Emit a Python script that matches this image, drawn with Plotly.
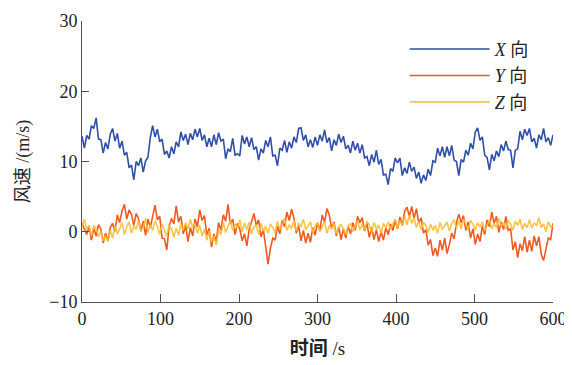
import plotly.graph_objects as go

# time axis, s (sample every 3 s)
t = list(range(0, 601, 3))

# X-direction wind speed (m/s)
x_dir = [
    13.6, 11.9, 13.7, 13.2, 15.1, 14.7, 16.2, 13.2, 13.1, 11.2,
    12.7, 11.8, 13.9, 14.7, 12.9, 14.0, 11.9, 12.9, 10.9, 11.3,
    9.1, 9.5, 7.4, 10.0, 9.4, 10.5, 8.5, 10.1, 10.6, 13.4,
    15.1, 13.5, 14.6, 12.8, 13.2, 11.0, 11.5, 10.5, 12.1, 11.1,
    12.8, 12.1, 14.2, 13.0, 13.9, 12.4, 14.0, 13.1, 14.6, 13.5,
    14.7, 13.0, 13.8, 12.1, 13.3, 12.1, 13.8, 12.4, 14.1, 12.9,
    13.2, 10.4, 11.8, 11.4, 13.3, 10.9, 11.1, 10.8, 13.7, 12.5,
    13.5, 12.1, 13.4, 11.7, 12.1, 10.2, 11.8, 11.2, 13.0, 12.1,
    13.5, 10.8, 10.9, 9.4, 11.9, 11.6, 13.0, 11.3, 12.8, 11.9,
    13.5, 12.7, 14.7, 14.8, 13.0, 13.8, 12.1, 13.1, 12.0, 13.5,
    12.3, 13.8, 12.9, 14.5, 12.7, 13.4, 11.5, 13.1, 12.3, 13.9,
    12.7, 13.6, 11.8, 12.3, 11.2, 12.9, 11.6, 12.6, 11.2, 12.4,
    10.5, 10.7, 9.4, 11.0, 9.9, 11.6, 9.6, 10.3, 8.1, 8.2,
    6.7, 9.0, 8.6, 10.5, 9.8, 10.5, 8.0, 9.1, 8.3, 9.9,
    8.6, 9.2, 7.6, 8.5, 6.9, 8.1, 7.3, 8.9, 8.0, 10.1,
    9.9, 11.9, 10.8, 12.1, 10.6, 12.1, 10.8, 12.3, 10.2, 10.0,
    8.0, 10.3, 9.9, 11.6, 10.9, 12.6, 11.8, 14.2, 14.8, 13.0,
    13.5, 10.9, 10.6, 8.8, 11.0, 10.1, 11.5, 10.7, 12.4, 11.5,
    12.9, 11.7, 11.6, 9.1, 11.6, 11.8, 14.3, 13.1, 14.6, 13.7,
    14.7, 12.8, 13.3, 11.9, 13.8, 13.1, 14.7, 12.8, 13.4, 12.3, 13.8,
]

# Y-direction wind speed (m/s)
y_dir = [
    1.2, 0.3, -0.4, 0.8, -1.2, 0.5, -0.6, 1.0, 0.4, -1.6,
    -0.2, -1.3, 0.6, 1.2, 0.1, 2.4, 1.3, 3.0, 3.9, 1.8,
    3.1, 2.5, 0.9, 2.6, 1.9, 0.1, 1.5, -0.5, 1.8, 0.6,
    2.3, 3.8, 1.7, 2.2, -0.9, -1.0, -2.6, 0.8, 1.9, 1.1,
    3.7, 1.4, 2.2, -0.3, 0.9, -1.4, 0.6, -0.6, 1.8, 0.7,
    3.1, 1.6, 2.3, -0.5, 0.5, -2.2, -0.3, -1.4, 1.3, 0.2,
    2.4, 1.5, 3.9, 1.1, 1.8, -0.4, 1.2, 0.4, -1.3, -0.3,
    -2.0, 0.4, 1.4, 2.6, 0.9, 1.7, -0.7, 0.3, -2.1, -4.6,
    -2.4, -0.9, -1.2, 0.8, -0.3, 1.6, 0.7, 2.8, 1.6, 3.2,
    1.9, -0.2, 0.9, -1.3, 0.2, -1.6, -0.2, -1.5, 0.6, -0.5,
    1.3, 0.2, 2.4, 1.3, 3.3, 2.4, 0.5, 1.4, -0.6, 0.7,
    -1.1, 0.4, -0.9, 0.8, -0.3, 1.3, 0.2, 2.2, 1.3, 2.0,
    0.1, 1.2, -0.8, 0.6, -1.1, 0.3, -1.4, 0.0, -1.2, 0.6,
    -0.4, 1.1, 0.2, 1.6, 0.4, 2.1, 0.9, 2.9, 3.5, 2.2,
    3.6, 1.9, 3.3, 1.2, 2.0, -0.2, 0.3, -1.9, -1.1, -3.4,
    -2.3, -3.5, -1.2, -2.6, -0.9, -3.1, -1.8, -0.2, -1.0, 1.3,
    2.5, 1.3, 2.3, 0.2, 1.4, -0.9, 0.4, -1.8, -0.3, -1.4,
    0.8, -0.4, 1.7, 0.7, 2.8, 1.2, 2.2, -0.1, 1.4, 0.3,
    2.2, 0.2, 0.4, -2.6, -1.4, -3.7, -1.7, -2.7, -0.7, -2.9,
    -1.2, -2.8, -0.6, -2.0, -0.7, -3.2, -4.1, -2.2, -0.9, -1.1, 1.2,
]

# Z-direction wind speed (m/s)
z_dir = [
    0.6, 1.8, 0.3, 0.9, -0.6, 0.8, 0.5, -0.7, 0.1, -1.3,
    -0.6, -1.4, 0.2, -0.9, 0.9, -0.3, 0.4, 1.3, -0.4, 0.7,
    1.4, -0.2, 0.9, 0.3, 1.6, 0.1, 0.6, 1.9, -0.1, 1.0,
    0.2, 1.5, 0.8, -0.4, 1.1, 0.3, -0.6, 0.9, 0.4, -0.8,
    0.5, -0.5, 1.1, 0.2, 1.3, 0.4, 1.8, 0.6, 1.2, -0.2,
    0.9, -0.6, 0.4, -1.2, 0.1, -1.5, -0.6, -1.9, 0.2, -0.4,
    1.3, -0.1, 0.8, 1.6, 0.2, 1.1, 0.5, 1.7, 0.0, 1.2,
    0.3, 1.4, -0.3, 0.7, 0.9, -0.4, 1.2, 0.1, 0.8, -0.2,
    1.1, 0.6, -0.2, 1.5, 0.3, 1.2, 1.9, 0.2, 1.0, 0.5,
    1.6, 0.1, 1.2, 0.7, 1.8, 0.3, 0.9, 1.4, -0.1, 0.8,
    1.3, 0.0, 0.7, 1.5, -0.2, 0.9, 0.4, 1.2, -0.3, 0.6,
    1.1, 0.2, -0.4, 0.8, 1.2, 0.0, 0.9, 1.6, 0.3, 1.1,
    0.2, 1.5, 1.0, -0.1, 1.3, 0.4, 0.9, -0.2, 1.2, 0.5,
    1.4, 0.3, 1.1, 1.8, 0.5, 1.6, 0.9, 2.2, 1.0, 2.4,
    1.2, 2.0, 0.6, 1.5, 0.3, 1.3, 0.9, -0.1, 1.1, 0.2,
    0.9, -0.2, 1.3, 0.4, 0.8, 1.4, 0.1, 1.2, 1.7, 0.5,
    1.5, 0.4, 1.8, 0.9, 0.3, 1.6, 1.1, 0.2, 1.3, 0.7,
    1.4, 0.1, 0.9, 1.7, 0.4, 1.2, 0.6, 1.9, 0.8, 1.3,
    0.4, 1.6, 1.1, 0.2, 1.5, 0.9, 1.8, 0.3, 1.2, 0.6,
    1.7, 0.5, 1.3, 0.8, 2.0, 0.6, 1.1, 0.0, 1.4, 0.7, 0.9,
]

series_names = ["<i>X</i> 向", "<i>Y</i> 向", "<i>Z</i> 向"]
x_ticks = [0, 100, 200, 300, 400, 500, 600]
y_ticks = [-10, 0, 10, 20, 30]

serif = "Times New Roman, Liberation Serif, serif"
mixed = "Times New Roman, Liberation Serif, Noto Sans CJK SC, serif"
axis_col = "#5b5046"

fig = go.Figure()
fig.add_trace(go.Scatter(x=t, y=x_dir, mode="lines", name=series_names[0],
                         line=dict(color="#2f4fa8", width=1.6)))
fig.add_trace(go.Scatter(x=t, y=y_dir, mode="lines", name=series_names[1],
                         line=dict(color="#ee5a20", width=1.6)))
fig.add_trace(go.Scatter(x=t, y=z_dir, mode="lines", name=series_names[2],
                         line=dict(color="#fbbd35", width=1.6), opacity=0.9))

# the page body adds an 8 px offset, so the figure is 8 px smaller
fig.update_layout(
    width=564, height=357,
    margin=dict(l=74, r=19, t=13, b=63, autoexpand=False),
    paper_bgcolor="white", plot_bgcolor="white",
    font=dict(family=mixed, size=17, color="#222222"),
    showlegend=True,
    legend=dict(x=0.685, y=0.965, xanchor="left", yanchor="top",
                bgcolor="rgba(0,0,0,0)", font=dict(family=mixed, size=18),
                itemwidth=80, tracegroupgap=0),
    xaxis=dict(range=[0, 600], tickvals=x_ticks, ticks="inside", ticklen=8,
               tickcolor=axis_col, showline=True, linecolor=axis_col, linewidth=1,
               showgrid=False, zeroline=False, mirror=False, automargin=False,
               tickfont=dict(family=serif, size=18, color="#222222"),
               title=dict(text="<b>时间</b> /s", font=dict(family=mixed, size=19), standoff=14)),
    yaxis=dict(range=[-10, 30], tickvals=y_ticks, ticks="inside", ticklen=7,
               tickcolor=axis_col, showline=True, linecolor=axis_col, linewidth=1,
               showgrid=False, zeroline=False, mirror=False, automargin=False,
               tickfont=dict(family=serif, size=18, color="#222222"),
               title=dict(text="风速 /(m/s)", font=dict(family=mixed, size=18), standoff=14)),
)

fig.write_html("out.html")
